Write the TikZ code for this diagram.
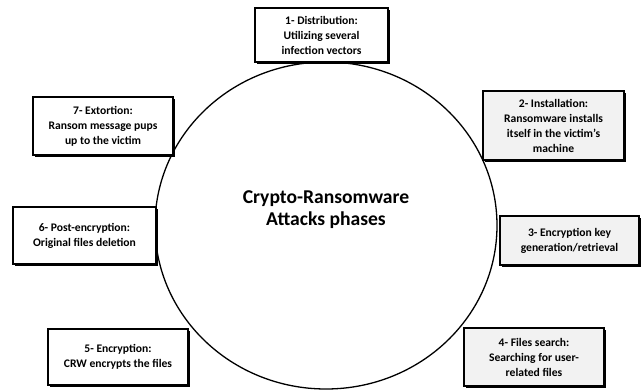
\documentclass[tikz,border=0pt]{standalone}
\usepackage{fontspec}
\setmainfont{Carlito}
\usetikzlibrary{shapes.geometric,shadows}
\definecolor{phasegray}{HTML}{F2F2F2}
\begin{document}
\begin{tikzpicture}[x=1pt,y=-1pt,
  phasebox/.style={draw=black, line width=1.4pt, fill=white,
    drop shadow={shadow xshift=1.6pt, shadow yshift=-1.6pt, fill=black, opacity=1},
    align=center, inner sep=0pt, font=\fontsize{11.6}{15}\selectfont\bfseries},
  graybox/.style={phasebox, fill=phasegray},
  hub/.style={draw=black, line width=1.3pt, ellipse, inner sep=0pt}]
\useasboundingbox (0,0) rectangle (644,390);
% central ellipse
\node[hub, minimum width=342pt, minimum height=327pt] (core) at (326,225.5) {};
\node[font=\fontsize{19.6}{22}\selectfont\bfseries, align=center] (title) at (326,210)
  {Crypto-Ransomware\\Attacks phases};
% phase boxes, clockwise from the top
\node[phasebox, minimum width=133pt, minimum height=54pt] (p1) at (321.5,35)
  {1- Distribution:\\Utilizing several\\infection vectors};
\node[graybox, minimum width=141pt, minimum height=69pt] (p2) at (553.5,125.5)
  {2- Installation:\\Ransomware installs\\itself in the victim’s\\machine};
\node[graybox, minimum width=139pt, minimum height=49pt] (p3) at (569.5,240.5)
  {3- Encryption key\\generation/retrieval};
\node[graybox, minimum width=140pt, minimum height=58pt] (p4) at (534,357)
  {4- Files search:\\Searching for user-\\related files};
\node[phasebox, minimum width=140pt, minimum height=56pt] (p5) at (118,357)
  {5- Encryption:\\CRW encrypts the files};
\node[phasebox, minimum width=143pt, minimum height=57pt] (p6) at (84.5,235.5)
  {6- Post-encryption:\\Original files deletion};
\node[phasebox, minimum width=140pt, minimum height=58pt] (p7) at (103,126)
  {7- Extortion:\\Ransom message pups\\up to the victim};
\end{tikzpicture}
\end{document}
